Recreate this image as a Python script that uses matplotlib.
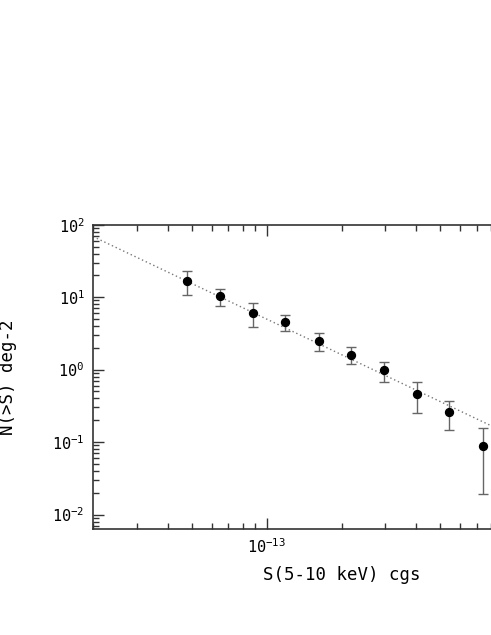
import numpy as np
import matplotlib
matplotlib.use("Agg")
import matplotlib.pyplot as plt
from matplotlib.ticker import LogLocator, NullFormatter, FixedLocator

# logN-logS points
flux = np.array([4.78e-14, 6.48e-14, 8.80e-14, 1.19e-13, 1.62e-13,
                 2.19e-13, 2.97e-13, 4.02e-13, 5.44e-13, 7.39e-13])
n_gt_s = np.array([16.8, 10.4, 6.03, 4.53, 2.48, 1.585, 0.984, 0.463, 0.261, 0.0887])
n_upper = np.array([23.2, 13.1, 8.2, 5.6, 3.16, 2.03, 1.28, 0.67, 0.371, 0.157])
n_lower = np.array([10.7, 7.6, 3.83, 3.43, 1.82, 1.18, 0.67, 0.251, 0.149, 0.0193])

# power-law fit drawn as dotted line: N = norm * (S / 1e-13)^slope
fit_norm = 4.98
fit_slope = -1.63

xlim = (2e-14, 2e-12)
ylim = (10 ** -2.2, 1e2)

plt.rcParams['font.family'] = ['DejaVu Sans Mono']
plt.rcParams['mathtext.fontset'] = 'custom'
plt.rcParams['mathtext.rm'] = 'DejaVu Sans Mono'
plt.rcParams['mathtext.default'] = 'rm'

W, H = 491, 635
fig = plt.figure(figsize=(W / 100, H / 100), dpi=100)
left, right, bottom, top = 93, 590, 529, 224.7
ax = fig.add_axes([left / W, (H - bottom) / H, (right - left) / W, (bottom - top) / H])

# fit line
xs = np.logspace(np.log10(xlim[0]), np.log10(xlim[1]), 200)
ax.plot(xs, fit_norm * (xs / 1e-13) ** fit_slope, color='#777777', lw=1.0,
        linestyle=(0, (1, 2)), zorder=1)

# points with asymmetric errors
yerr = np.vstack([n_gt_s - n_lower, n_upper - n_gt_s])
ax.errorbar(flux, n_gt_s, yerr=yerr, fmt='o', color='black', markersize=5.7,
            ecolor='#666666', elinewidth=1.0, capsize=3.5, capthick=1.0, zorder=3)

ax.set_xscale('log')
ax.set_yscale('log')
ax.set_xlim(*xlim)
ax.set_ylim(*ylim)

# only 10^-13 falls inside the visible part of the figure
ax.xaxis.set_major_locator(FixedLocator([1e-13, 1e-12]))
ax.xaxis.set_minor_locator(LogLocator(base=10, subs=np.arange(2, 10), numticks=20))
ax.xaxis.set_minor_formatter(NullFormatter())
ax.set_xticklabels(['$10^{-13}$', ''])

ax.yaxis.set_major_locator(FixedLocator([1e-2, 1e-1, 1e0, 1e1, 1e2]))
ax.yaxis.set_minor_locator(LogLocator(base=10, subs=np.arange(2, 10), numticks=20))
ax.yaxis.set_minor_formatter(NullFormatter())
ax.set_yticklabels(['$10^{-2}$', '$10^{-1}$', '$10^{0}$', '$10^{1}$', '$10^{2}$'])

ax.tick_params(which='both', direction='in', top=True, right=False,
               color='#333333', width=1.0, labelsize=11, labelcolor='black')
ax.tick_params(which='major', length=8)
ax.tick_params(which='minor', length=4.5)
ax.tick_params(axis='y', pad=6)
ax.tick_params(axis='x', pad=6)

for side in ('left', 'bottom', 'top'):
    ax.spines[side].set_color('#333333')
    ax.spines[side].set_linewidth(1.2)
ax.spines['right'].set_visible(False)

ax.set_xlabel('S(5-10 keV) cgs', fontsize=12.5)
ax.xaxis.set_label_coords(0.5, -0.1206)
ax.set_ylabel('N(>S) deg-2', fontsize=12.5)
ax.yaxis.set_label_coords(-0.1529, 0.5)

fig.savefig('out.png', dpi=100)
